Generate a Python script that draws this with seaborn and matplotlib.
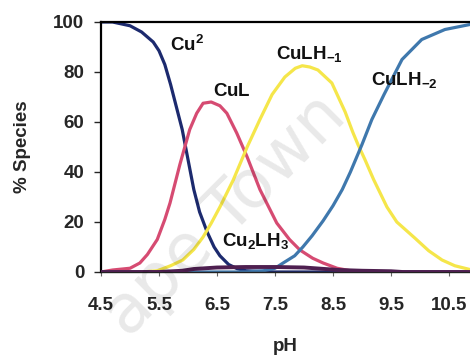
import matplotlib
matplotlib.use("Agg")
import matplotlib.pyplot as plt
import seaborn as sns
import pandas as pd

# Species distribution of the copper complexes versus pH
cu_ph = [4.5, 4.7, 5.0, 5.2, 5.4, 5.5, 5.6, 5.7, 5.8, 5.9, 6.0, 6.1, 6.2, 6.33, 6.45,
         6.55, 6.7, 6.85, 7.0, 7.5, 8.0, 9.0, 10.0, 10.86]
cu_pct = [100, 100, 98.5, 96, 92, 88.5, 83, 75, 66, 57, 45, 33, 24, 16, 10,
          6.5, 3, 1.3, 0.5, 0, 0, 0, 0, 0]

cul_ph = [4.5, 4.7, 5.0, 5.17, 5.3, 5.47, 5.6, 5.69, 5.86, 6.03, 6.15, 6.26, 6.4,
          6.55, 6.67, 6.84, 7.02, 7.24, 7.53, 7.75, 7.93, 8.15, 8.33, 8.57, 8.8, 9.2]
cul_pct = [0, 0.8, 1.5, 3.6, 7, 13, 21, 27.6, 43, 57, 63.5, 67.5, 68,
           66.5, 63.5, 55.6, 46, 33, 19.6, 13, 8.8, 5.5, 3.6, 1.5, 0.5, 0]

culh1_ph = [4.5, 5.2, 5.47, 5.7, 5.91, 6.1, 6.26, 6.4, 6.55, 6.78, 7.02, 7.24, 7.45,
            7.67, 7.85, 7.97, 8.1, 8.24, 8.48, 8.71, 8.84, 8.93, 9.05, 9.2, 9.43, 9.6,
            9.91, 10.15, 10.38, 10.6, 10.86]
culh1_pct = [0, 0, 0.5, 2.5, 4.8, 9, 14, 19.5, 26, 36.8, 50, 61, 71,
             78, 81.5, 82.5, 82, 80.8, 75.6, 64, 56, 51, 45, 37, 26, 20,
             13.6, 8.5, 4.8, 2.5, 1]

culh2_ph = [4.5, 7.0, 7.3, 7.5, 7.64, 7.84, 7.98, 8.14, 8.33, 8.5, 8.66, 8.8, 9.0,
            9.17, 9.38, 9.69, 10.03, 10.43, 10.86]
culh2_pct = [0, 0, 0.5, 1.5, 3.6, 6.5, 10, 14.5, 20.5, 26.5, 33, 40, 51,
             61, 71, 85, 93, 97, 99]

cu2lh3_ph = [4.5, 5.5, 5.9, 6.1, 6.5, 7.0, 7.5, 8.0, 8.3, 8.6, 9.0, 9.5, 9.7, 10.86]
cu2lh3_pct = [0, 0, 0.5, 1.2, 1.8, 2, 2, 1.8, 1.3, 0.8, 0.5, 0.3, 0, 0]

species = ["Cu2", "CuL", "CuLH-1", "CuLH-2", "Cu2LH3"]
colors = ["#1c2a6e", "#d64b72", "#f5e64a", "#3f78ad", "#4e1f50"]

frames = []
for name, x, y in zip(species,
                      [cu_ph, cul_ph, culh1_ph, culh2_ph, cu2lh3_ph],
                      [cu_pct, cul_pct, culh1_pct, culh2_pct, cu2lh3_pct]):
    frames.append(pd.DataFrame({"pH": x, "pct": y, "species": name}))
df = pd.concat(frames, ignore_index=True)

sns.set_style("ticks")
plt.rcParams["font.family"] = ["Liberation Sans", "DejaVu Sans"]
plt.rcParams["font.weight"] = "bold"
plt.rcParams["mathtext.fontset"] = "custom"
plt.rcParams["mathtext.bf"] = "Liberation Sans:bold"
plt.rcParams["mathtext.rm"] = "Liberation Sans:bold"

fig = plt.figure(figsize=(4.70, 3.58), dpi=100)
ax = fig.add_axes([101 / 470, 1 - 272 / 358, 1 - 101 / 470, 250 / 358])

sns.lineplot(data=df, x="pH", y="pct", hue="species", hue_order=species,
             palette=dict(zip(species, colors)), linewidth=2.3, legend=False,
             ax=ax, sort=False, estimator=None)
# keep the small dinuclear species on top along the baseline
ax.lines[-1].set_zorder(3)
ax.lines[-1].set_linewidth(2.8)

ax.set_xlim(4.5, 4.5 + 369 / 58)
ax.set_ylim(0, 100)
ax.set_xticks([4.5, 5.5, 6.5, 7.5, 8.5, 9.5, 10.5])
ax.set_xticklabels(["4.5", "5.5", "6.5", "7.5", "8.5", "9.5", "10.5"])
ax.set_yticks([0, 20, 40, 60, 80, 100])

for s in ["left", "top"]:
    ax.spines[s].set_linewidth(1.6)
    ax.spines[s].set_color("black")
ax.spines["right"].set_visible(False)
ax.spines["bottom"].set_linewidth(1.0)
ax.spines["bottom"].set_color("#222222")

ax.tick_params(axis="y", direction="out", length=5, width=1, pad=7,
               labelsize=13.5)
ax.tick_params(axis="x", direction="out", length=3, width=0.8, pad=15,
               labelsize=13.5, color="#666666")
for lab in ax.get_xticklabels() + ax.get_yticklabels():
    lab.set_fontweight("bold")

ax.set_xlabel("pH", fontsize=13.5, fontweight="bold", labelpad=17)
ax.set_ylabel("% Species", fontsize=13.5, fontweight="bold", labelpad=16)

lab_kw = dict(fontsize=13.5, color="#111111", va="center", ha="left")
ax.text(5.69, 91, r"$\mathbf{Cu^{2}}$", **lab_kw)
ax.text(6.43, 72, r"$\mathbf{CuL}$", **lab_kw)
ax.text(7.52, 87, r"$\mathbf{CuLH_{-1}}$", **lab_kw)
ax.text(9.16, 77, r"$\mathbf{CuLH_{-2}}$", **lab_kw)
ax.text(6.59, 12.5, r"$\mathbf{Cu_{2}LH_{3}}$", **lab_kw)

# faint diagonal watermark across the plot
fig.text(0.479, 0.399, "ape Town", rotation=45, fontsize=48,
         family="DejaVu Sans", fontweight="normal", color="black", alpha=0.09,
         ha="center", va="center", zorder=10)

fig.savefig("out.png", dpi=100)
